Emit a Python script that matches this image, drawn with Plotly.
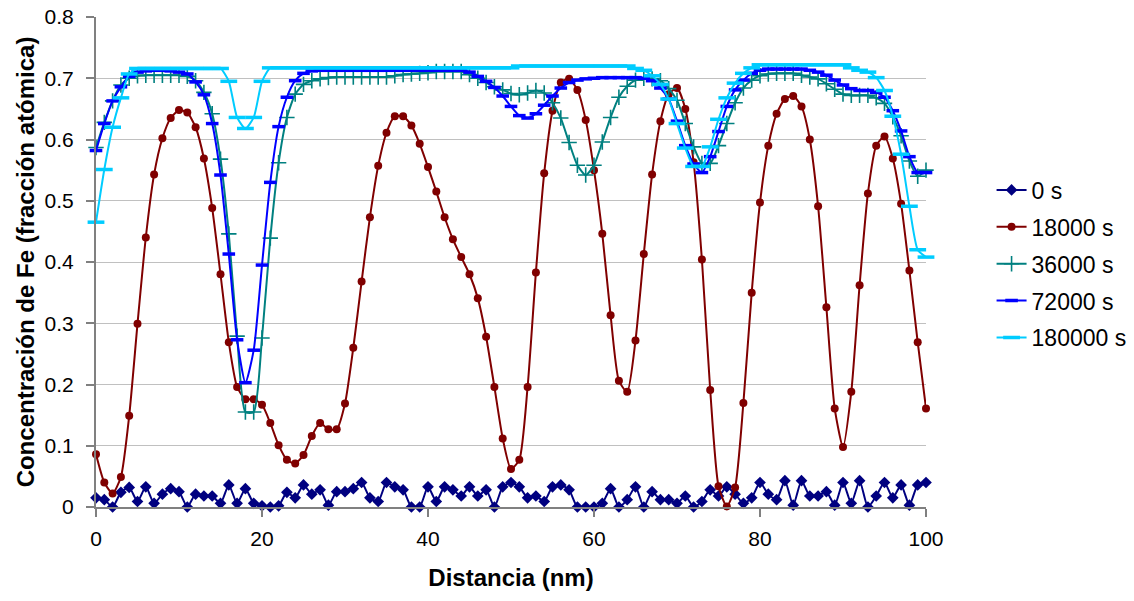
import plotly.graph_objects as go

distancia = list(range(0, 101))

s_0 = [
    0.015, 0.012, 0.000, 0.024, 0.032, 0.009, 0.033, 0.006, 0.021, 0.030,
    0.025, 0.000, 0.021, 0.018, 0.018, 0.006, 0.036, 0.006, 0.030, 0.006,
    0.002, 0.000, 0.002, 0.024, 0.015, 0.036, 0.021, 0.028, 0.003, 0.025,
    0.025, 0.030, 0.040, 0.015, 0.009, 0.040, 0.033, 0.028, 0.000, 0.000,
    0.033, 0.009, 0.033, 0.028, 0.018, 0.033, 0.018, 0.028, 0.000, 0.033,
    0.040, 0.033, 0.015, 0.018, 0.009, 0.033, 0.036, 0.028, 0.000, 0.000,
    0.000, 0.006, 0.030, 0.000, 0.012, 0.033, 0.000, 0.025, 0.012, 0.012,
    0.006, 0.018, 0.000, 0.009, 0.028, 0.018, 0.033, 0.021, 0.006, 0.015,
    0.040, 0.021, 0.012, 0.043, 0.003, 0.043, 0.018, 0.018, 0.025, 0.003,
    0.040, 0.006, 0.043, 0.000, 0.018, 0.040, 0.015, 0.036, 0.003, 0.036,
    0.040,
]

s_18000 = [
    0.086, 0.040, 0.022, 0.049, 0.149, 0.299, 0.440, 0.543, 0.602, 0.635,
    0.648, 0.644, 0.620, 0.569, 0.488, 0.380, 0.269, 0.196, 0.176, 0.176,
    0.167, 0.137, 0.101, 0.077, 0.071, 0.085, 0.116, 0.137, 0.127, 0.127,
    0.169, 0.260, 0.368, 0.473, 0.557, 0.611, 0.638, 0.638, 0.623, 0.593,
    0.555, 0.515, 0.473, 0.437, 0.408, 0.380, 0.341, 0.278, 0.196, 0.112,
    0.062, 0.077, 0.196, 0.383, 0.545, 0.647, 0.693, 0.699, 0.681, 0.632,
    0.550, 0.446, 0.313, 0.206, 0.188, 0.272, 0.413, 0.543, 0.630, 0.674,
    0.684, 0.650, 0.563, 0.404, 0.191, 0.034, 0.001, 0.032, 0.170, 0.350,
    0.497, 0.590, 0.642, 0.666, 0.671, 0.654, 0.600, 0.491, 0.326, 0.161,
    0.098, 0.188, 0.362, 0.512, 0.590, 0.605, 0.569, 0.495, 0.386, 0.269,
    0.161,
]

s_36000 = [
    0.587, 0.628, 0.663, 0.689, 0.700, 0.704, 0.705, 0.705, 0.705, 0.705,
    0.705, 0.703, 0.696, 0.677, 0.642, 0.568, 0.446, 0.279, 0.155, 0.155,
    0.276, 0.439, 0.562, 0.636, 0.674, 0.690, 0.696, 0.699, 0.701, 0.702,
    0.702, 0.702, 0.702, 0.702, 0.702, 0.702, 0.704, 0.706, 0.707, 0.708,
    0.709, 0.711, 0.711, 0.711, 0.711, 0.706, 0.700, 0.693, 0.686, 0.681,
    0.675, 0.673, 0.676, 0.680, 0.676, 0.660, 0.635, 0.595, 0.558, 0.542,
    0.558, 0.596, 0.636, 0.669, 0.687, 0.697, 0.700, 0.699, 0.696, 0.683,
    0.664, 0.626, 0.588, 0.561, 0.561, 0.590, 0.626, 0.660, 0.684, 0.697,
    0.704, 0.707, 0.708, 0.708, 0.708, 0.705, 0.702, 0.699, 0.691, 0.682,
    0.674, 0.672, 0.672, 0.672, 0.668, 0.659, 0.637, 0.606, 0.565, 0.540,
    0.550,
]

s_72000 = [
    0.582, 0.626, 0.663, 0.686, 0.703, 0.710, 0.712, 0.713, 0.713, 0.712,
    0.710, 0.707, 0.694, 0.673, 0.626, 0.542, 0.413, 0.273, 0.203, 0.256,
    0.395, 0.530, 0.621, 0.669, 0.696, 0.708, 0.712, 0.713, 0.713, 0.713,
    0.713, 0.713, 0.713, 0.713, 0.713, 0.713, 0.713, 0.713, 0.713, 0.713,
    0.713, 0.713, 0.713, 0.713, 0.713, 0.710, 0.703, 0.695, 0.685, 0.671,
    0.654, 0.639, 0.635, 0.642, 0.656, 0.671, 0.684, 0.693, 0.697, 0.699,
    0.700, 0.701, 0.701, 0.701, 0.701, 0.701, 0.700, 0.696, 0.684, 0.666,
    0.630, 0.590, 0.560, 0.546, 0.572, 0.613, 0.654, 0.681, 0.697, 0.708,
    0.713, 0.715, 0.715, 0.715, 0.715, 0.715, 0.713, 0.710, 0.705, 0.697,
    0.689, 0.683, 0.680, 0.680, 0.677, 0.669, 0.647, 0.614, 0.572, 0.546,
    0.546,
]

s_180000 = [
    0.465, 0.551, 0.620, 0.668, 0.707, 0.716, 0.716, 0.716, 0.716, 0.716,
    0.716, 0.716, 0.716, 0.716, 0.716, 0.716, 0.695, 0.636, 0.618, 0.636,
    0.695, 0.717, 0.717, 0.717, 0.717, 0.717, 0.717, 0.717, 0.717, 0.717,
    0.717, 0.717, 0.717, 0.717, 0.717, 0.717, 0.717, 0.717, 0.717, 0.717,
    0.717, 0.717, 0.717, 0.717, 0.717, 0.717, 0.717, 0.717, 0.717, 0.717,
    0.717, 0.720, 0.720, 0.720, 0.720, 0.720, 0.720, 0.720, 0.720, 0.720,
    0.720, 0.720, 0.720, 0.720, 0.720, 0.716, 0.713, 0.704, 0.690, 0.666,
    0.626, 0.586, 0.556, 0.556, 0.588, 0.633, 0.668, 0.692, 0.708, 0.717,
    0.722, 0.722, 0.722, 0.722, 0.722, 0.722, 0.722, 0.722, 0.722, 0.722,
    0.722, 0.717, 0.713, 0.710, 0.701, 0.680, 0.638, 0.576, 0.491, 0.420,
    0.408,
]

series_names = ["0 s", "18000 s", "36000 s", "72000 s", "180000 s"]
series_values = [s_0, s_18000, s_36000, s_72000, s_180000]
colors = ["#000080", "#800000", "#008080", "#0000FF", "#00CCFF"]
markers = [
    dict(symbol="diamond", size=9, color="#000080"),
    dict(symbol="circle", size=8, color="#800000"),
    dict(symbol="cross-thin", size=11, color="#008080",
         line=dict(color="#008080", width=1.6)),
    dict(symbol="line-ew", size=9, color="#0000FF",
         line=dict(color="#0000FF", width=3.5)),
    dict(symbol="line-ew", size=12, color="#00CCFF",
         line=dict(color="#00CCFF", width=3.5)),
]

FONT = "Arial, Liberation Sans, sans-serif"

fig = go.Figure()
for i, (name, vals) in enumerate(zip(series_names, series_values)):
    fig.add_trace(go.Scatter(
        x=distancia, y=vals, name=name, mode="lines+markers",
        line=dict(color=colors[i], width=2, shape="spline", smoothing=0.6),
        marker=markers[i], cliponaxis=False, legendgroup=name,
    ))

fig.update_layout(
    width=1134, height=601,
    margin=dict(l=96, r=208, t=17, b=94, autoexpand=False),
    paper_bgcolor="white", plot_bgcolor="white",
    font=dict(family=FONT, size=21, color="black"),
    showlegend=True,
    legend=dict(
        x=1.079, xanchor="left", y=0.496, yanchor="middle",
        font=dict(family=FONT, size=23, color="black"),
        tracegroupgap=4, bgcolor="rgba(0,0,0,0)",
    ),
    xaxis=dict(
        range=[0, 100], tick0=0, dtick=20, showgrid=False, zeroline=False,
        showline=True, linecolor="#808080", linewidth=2,
        ticks="outside", ticklen=8, tickcolor="#808080", tickwidth=1.5,
        tickfont=dict(size=21), ticklabelstandoff=4,
        title=dict(text="<b>Distancia (nm)</b>", font=dict(size=24), standoff=20),
    ),
    yaxis=dict(
        range=[0, 0.8], tick0=0, dtick=0.1, showgrid=True, gridcolor="#c0c0c0",
        gridwidth=1, zeroline=False,
        showline=True, linecolor="#808080", linewidth=2,
        ticks="outside", ticklen=8, tickcolor="#808080", tickwidth=1.5,
        tickfont=dict(size=21), ticklabelstandoff=8,
        title=dict(text="<b>Concentración de Fe (fracción atómica)</b>",
                   font=dict(size=24), standoff=3),
    ),
)

fig.write_html("out.html")
